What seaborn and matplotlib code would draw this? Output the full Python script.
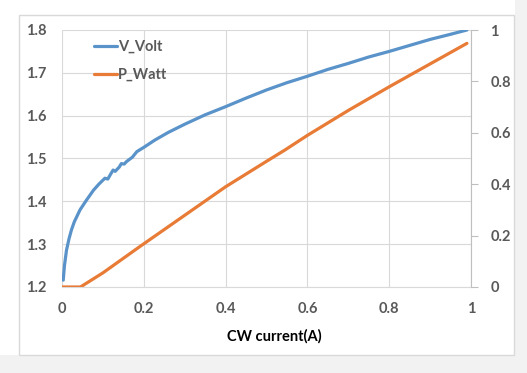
import matplotlib
matplotlib.use("Agg")
import matplotlib.pyplot as plt
import pandas as pd
import seaborn as sns
from matplotlib.patches import Rectangle

# measured V-I curve (left axis)
v_current = [0.003, 0.006, 0.011, 0.017, 0.023, 0.03, 0.044, 0.06, 0.077, 0.09,
             0.105, 0.112, 0.118, 0.125, 0.13, 0.14, 0.145, 0.152, 0.158, 0.165,
             0.172, 0.183, 0.2, 0.227, 0.26, 0.3, 0.35, 0.4, 0.45, 0.5,
             0.55, 0.6, 0.65, 0.7, 0.75, 0.8, 0.85, 0.9, 0.95, 0.99]
v_volt = [1.216, 1.25, 1.286, 1.312, 1.333, 1.352, 1.38, 1.403, 1.426, 1.44,
          1.454, 1.452, 1.462, 1.473, 1.47, 1.48, 1.488, 1.487, 1.493, 1.498,
          1.503, 1.516, 1.526, 1.543, 1.561, 1.58, 1.602, 1.621, 1.641, 1.66,
          1.677, 1.692, 1.708, 1.722, 1.737, 1.75, 1.764, 1.778, 1.79, 1.80]

# optical power (right axis)
p_current = [0.0, 0.045, 0.1, 0.19, 0.3, 0.4, 0.5, 0.545, 0.6, 0.7, 0.8, 0.9, 0.99]
p_watt = [0.0, 0.0, 0.055, 0.157, 0.279, 0.39, 0.489, 0.533, 0.59, 0.687, 0.779, 0.868, 0.948]

x_ticks = [0, 0.2, 0.4, 0.6, 0.8, 1]
x_labels = ["0", "0.2", "0.4", "0.6", "0.8", "1"]
y1_ticks = [1.2, 1.3, 1.4, 1.5, 1.6, 1.7, 1.8]
y2_ticks = [0, 0.2, 0.4, 0.6, 0.8, 1]
y2_labels = ["0", "0.2", "0.4", "0.6", "0.8", "1"]

blue = "#5a93c9"
orange = "#e87b36"
txt = "#595959"
grid = "#d9d9d9"

sns.set_style("white")
plt.rcParams["font.family"] = ["Lato", "DejaVu Sans"]
plt.rcParams["font.weight"] = "bold"

df_v = pd.DataFrame({"current": v_current, "V_Volt": v_volt})
df_p = pd.DataFrame({"current": p_current, "P_Watt": p_watt})

fig = plt.figure(figsize=(5.27, 3.73), dpi=100)
fig.patch.set_facecolor("white")
# chart frame and grey strips like the screenshot (behind the axes)
fig.patches.append(Rectangle((0, 0), 1, 18 / 373, transform=fig.transFigure,
                             facecolor="#f2f2f2", edgecolor="none", zorder=-2))
fig.patches.append(Rectangle((515 / 527, 0), 12 / 527, 1, transform=fig.transFigure,
                             facecolor="#f2f2f2", edgecolor="none", zorder=-2))
fig.patches.append(Rectangle((19 / 527, 18 / 373), 495 / 527, 340 / 373,
                             transform=fig.transFigure, facecolor="white",
                             edgecolor="#d9d9d9", lw=1, zorder=-1))

ax = fig.add_axes([62 / 527, 1 - 287 / 373, 409 / 527, 257 / 373])
ax.patch.set_alpha(0)
sns.lineplot(data=df_v, x="current", y="V_Volt", ax=ax, color=blue, lw=2.3,
             label="V_Volt", legend=False)
ax.set_xlim(0, 1)
ax.set_ylim(1.2, 1.8)
ax.set_xticks(x_ticks)
ax.set_xticklabels(x_labels)
ax.set_yticks(y1_ticks)
ax.set_yticklabels([f"{t:.1f}" for t in y1_ticks])
ax.grid(True, color=grid, lw=0.8)
ax.set_axisbelow(True)
for s in ["top", "left", "right"]:
    ax.spines[s].set_visible(False)
ax.spines["bottom"].set_color(grid)
ax.spines["bottom"].set_linewidth(0.8)
ax.tick_params(axis="x", length=0, pad=11, labelsize=10.5, labelcolor=txt)
ax.tick_params(axis="y", length=0, pad=11, labelsize=10.5, labelcolor=txt)
ax.set_ylabel("")
ax.set_xlabel("CW current(A)", fontsize=10.5, color="black", fontweight="bold")
ax.xaxis.set_label_coords(0.52, -0.165)

ax2 = ax.twinx()
ax2.patch.set_alpha(0)
sns.lineplot(data=df_p, x="current", y="P_Watt", ax=ax2, color=orange, lw=2.3,
             label="P_Watt", legend=False)
ax2.set_ylim(0, 1)
ax2.set_yticks(y2_ticks)
ax2.set_yticklabels(y2_labels)
ax2.set_ylabel("")
for s in ["top", "left", "bottom"]:
    ax2.spines[s].set_visible(False)
ax2.spines["right"].set_color("#bfbfbf")
ax2.spines["right"].set_linewidth(0.8)
ax2.tick_params(axis="y", length=5, width=0.8, color="#bfbfbf", pad=9,
                labelsize=10.5, labelcolor=txt)

handles = ax.get_lines()[:1] + ax2.get_lines()[:1]
leg = ax2.legend(handles, ["V_Volt", "P_Watt"], loc="upper left",
                 bbox_to_anchor=(0.078, 0.962), frameon=False, fontsize=10.5,
                 handlelength=1.6, handletextpad=0.05, labelspacing=0.95,
                 borderpad=0, borderaxespad=0)
for t in leg.get_texts():
    t.set_color(txt)
    t.set_fontweight("bold")

plt.savefig("out.png", dpi=100)
